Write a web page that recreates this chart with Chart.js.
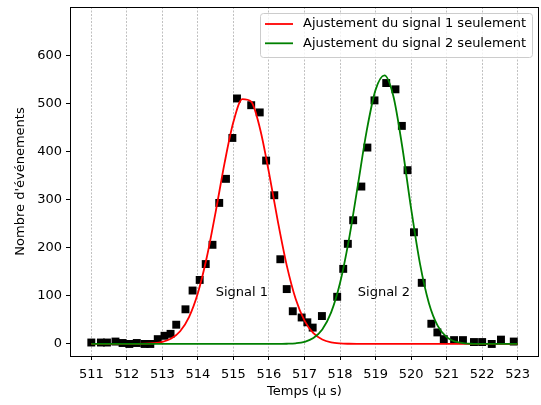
<!DOCTYPE html>
<html lang="fr">
<head>
<meta charset="UTF-8">
<title>Signaux 1 et 2</title>
<script src="https://cdn.jsdelivr.net/npm/chart.js@4.4.0/dist/chart.umd.min.js"></script>
<style>
  html, body { margin: 0; padding: 0; background: #fff; }
  #wrap { width: 541px; height: 405px; }
</style>
</head>
<body>
<div id="wrap"><canvas id="chart" width="541" height="405"></canvas></div>
<script>
// mesures (temps en µs, nombre d'événements)
const pointsX = [511.0, 511.27, 511.44, 511.68, 511.88, 512.07, 512.28, 512.5, 512.66, 512.87,
                 513.06, 513.23, 513.39, 513.65, 513.85, 514.05, 514.22, 514.41, 514.6, 514.79,
                 514.97, 515.1, 515.5, 515.74, 515.92, 516.15, 516.32, 516.5, 516.67, 516.92,
                 517.08, 517.23, 517.49, 517.92, 518.09, 518.22, 518.37, 518.6, 518.77, 518.97,
                 519.3, 519.56, 519.74, 519.9, 520.08, 520.3, 520.57, 520.74, 520.92, 521.21,
                 521.46, 521.77, 522.0, 522.27, 522.53, 522.89];
const pointsY = [3, 3, 3, 5, 2, 0, 2, 0, 0, 10,
                 17, 21, 40, 72, 111, 133, 166, 206, 293, 343,
                 428, 510, 496, 481, 381, 309, 176, 114, 68, 55,
                 45, 34, 58, 98, 156, 208, 257, 327, 408, 506,
                 542, 529, 453, 361, 232, 127, 42, 24, 10, 8,
                 8, 4, 4, 0, 9, 5];

// courbes d'ajustement
const fitX = [511, 511.25, 511.5, 511.75, 512, 512.25, 512.5, 512.75, 513, 513.25,
              513.5, 513.75, 514, 514.25, 514.5, 514.75, 515, 515.25, 515.5, 515.75,
              516, 516.25, 516.5, 516.75, 517, 517.25, 517.5, 517.75, 518, 518.25,
              518.5, 518.75, 519, 519.25, 519.5, 519.75, 520, 520.25, 520.5, 520.75,
              521, 521.25, 521.5, 521.75, 522, 522.25, 522.5, 522.75, 523];
const fit1 = [0, 0, 0, 0, 0, 0.1, 0.4, 1.5, 4.3, 11.3,
              26.5, 55.9, 105.9, 180, 274.5, 375.7, 461.4, 508.6, 503.1, 446.7,
              355.9, 254.5, 163.3, 94, 48.6, 22.5, 9.4, 3.5, 1.2, 0.4,
              0.1, 0, 0, 0, 0, 0, 0, 0, 0, 0,
              0, 0, 0, 0, 0, 0, 0, 0, 0];
const fit2 = [0, 0, 0, 0, 0, 0, 0, 0, 0, 0,
              0, 0, 0, 0, 0, 0, 0, 0, 0, 0,
              0, 0, 0.4, 1.4, 4.4, 12.2, 30.1, 65.6, 126.6, 216.8,
              329.1, 442.7, 527.8, 558, 515.1, 410.2, 281.7, 166.8, 85.3, 37.5,
              14.3, 4.7, 1.3, 0.3, 0, 0, 0, 0, 0];

const xTicks = [511, 512, 513, 514, 515, 516, 517, 518, 519, 520, 521, 522, 523];
const yTicks = [0, 100, 200, 300, 400, 500, 600];
const fitLabels = ['Ajustement du signal 1 seulement', 'Ajustement du signal 2 seulement'];
const signalLabels = ['Signal 1', 'Signal 2'];
const signalPos = [[514.5, 100], [518.5, 100]];

const FONT = 'DejaVu Sans';
const FS = 13;
Chart.defaults.color = '#000';
Chart.defaults.font.family = FONT;
Chart.defaults.font.size = FS;

const xy = (xs, ys) => xs.map((x, i) => ({ x: x, y: ys[i] }));

// cadre, légende et étiquettes dans la zone du graphe
const decor = {
  id: 'decor',
  afterDatasetsDraw(chart) {
    const { ctx, chartArea: a, scales: { x, y } } = chart;
    ctx.save();
    ctx.fillStyle = '#000';
    ctx.font = FS + 'px "' + FONT + '"';
    ctx.textAlign = 'left';
    ctx.textBaseline = 'alphabetic';
    signalLabels.forEach((t, i) => {
      ctx.fillText(t, x.getPixelForValue(signalPos[i][0]), y.getPixelForValue(signalPos[i][1]));
    });

    // frame
    ctx.strokeStyle = '#000';
    ctx.lineWidth = 1;
    ctx.strokeRect(Math.round(a.left) + 0.5, Math.round(a.top) + 0.5,
                   Math.round(a.right - a.left) - 1, Math.round(a.bottom - a.top));

    // legend
    const w = 272, h = 44;
    const lx = a.right - 7 - w, ly = a.top + 6;
    ctx.beginPath();
    ctx.roundRect(lx + 0.5, ly + 0.5, w, h, 3);
    ctx.fillStyle = 'rgba(255,255,255,0.8)';
    ctx.fill();
    ctx.strokeStyle = '#cccccc';
    ctx.stroke();
    ctx.textBaseline = 'middle';
    [0, 1].forEach(i => {
      const ds = chart.data.datasets[i];
      const yy = ly + 11 + i * 19.3;
      ctx.beginPath();
      ctx.moveTo(lx + 5, yy);
      ctx.lineTo(lx + 33, yy);
      ctx.strokeStyle = ds.borderColor;
      ctx.lineWidth = 1.8;
      ctx.stroke();
      ctx.fillStyle = '#000';
      ctx.fillText(ds.label, lx + 43, yy);
    });
    ctx.restore();
  }
};

new Chart(document.getElementById('chart'), {
  type: 'scatter',
  data: {
    datasets: [
      {
        type: 'line', label: fitLabels[0], data: xy(fitX, fit1),
        borderColor: '#ff0000', borderWidth: 1.8, pointRadius: 0,
        cubicInterpolationMode: 'monotone', fill: false, order: 1
      },
      {
        type: 'line', label: fitLabels[1], data: xy(fitX, fit2),
        borderColor: '#008000', borderWidth: 1.8, pointRadius: 0,
        cubicInterpolationMode: 'monotone', fill: false, order: 0
      },
      {
        label: 'Données', data: xy(pointsX, pointsY),
        pointStyle: 'rect', pointRadius: 5.6, pointHoverRadius: 0, backgroundColor: '#000',
        borderWidth: 0, order: 2
      }
    ]
  },
  options: {
    responsive: false,
    animation: false,
    devicePixelRatio: 1,
    layout: { autoPadding: false, padding: { top: 7, right: 2, left: 0, bottom: 0 } },
    plugins: { legend: { display: false }, tooltip: { enabled: false } },
    events: [],
    scales: {
      x: {
        type: 'linear', min: 510.4, max: 523.6,
        afterBuildTicks: s => { s.ticks = xTicks.map(v => ({ value: v })); },
        afterFit: s => { s.height = 49; s.paddingLeft = 0; s.paddingRight = 0; },
        ticks: { padding: 7, maxRotation: 0, autoSkip: false },
        grid: {
          color: '#b0b0b0', lineWidth: 0.8, tickColor: '#000', tickLength: 4,
          tickWidth: 1, tickBorderDash: []
        },
        border: { display: false, dash: [2, 1.5] },
        title: { display: true, text: 'Temps (μ s)', padding: { top: 0, bottom: 5.5 } }
      },
      y: {
        type: 'linear', min: -25, max: 700,
        afterBuildTicks: s => { s.ticks = yTicks.map(v => ({ value: v })); },
        afterFit: s => { s.width = 70; s.paddingTop = 0; s.paddingBottom = 0; },
        ticks: { padding: 4 },
        grid: { drawOnChartArea: false, tickColor: '#000', tickLength: 4, tickWidth: 1 },
        border: { display: false },
        title: { display: true, text: "Nombre d'événements", padding: { top: 13, bottom: 0 } }
      }
    }
  },
  plugins: [decor]
});
</script>
</body>
</html>
